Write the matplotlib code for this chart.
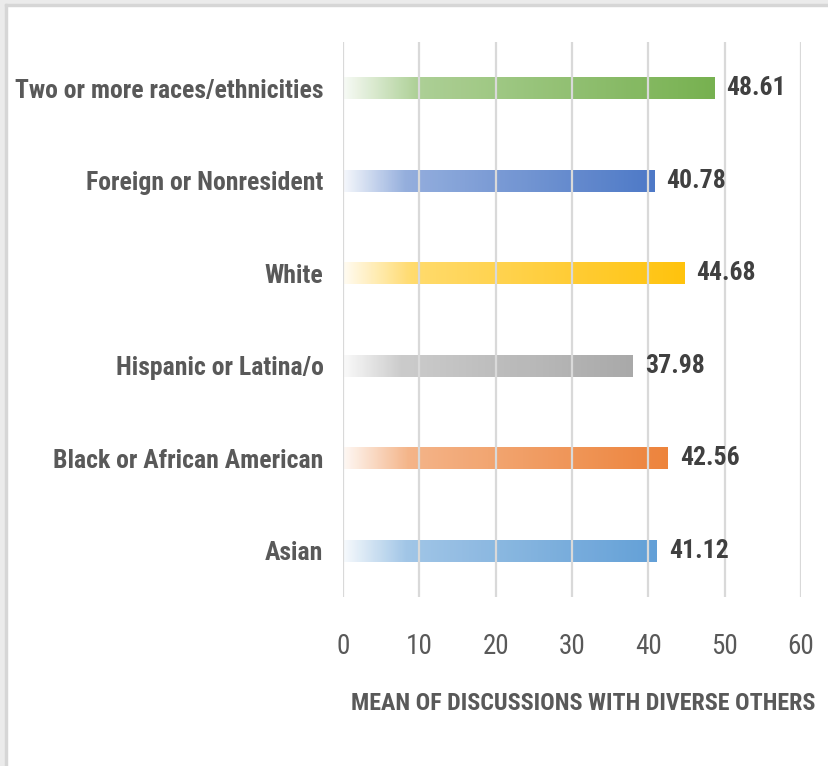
import matplotlib
matplotlib.use("Agg")
import matplotlib.pyplot as plt
import numpy as np
from matplotlib.colors import to_rgb
from matplotlib.patches import Rectangle
from matplotlib import font_manager

# groups, bottom to top as drawn
groups = ["Asian", "Black or African American", "Hispanic or Latina/o",
          "White", "Foreign or Nonresident", "Two or more races/ethnicities"]
means = [41.12, 42.56, 37.98, 44.68, 40.78, 48.61]
colors = ["#5B9BD5", "#ED7D31", "#A5A5A5", "#FFC000", "#4472C4", "#70AD47"]
xticks = [0, 10, 20, 30, 40, 50, 60]

# pick a narrow face if one is installed
installed = {f.name for f in font_manager.fontManager.ttflist}
narrow_names = [n for n in ["Liberation Sans Narrow", "DejaVu Sans Condensed",
                            "Roboto Condensed", "Open Sans Condensed",
                            "Noto Sans Condensed", "Arial Narrow"] if n in installed]
plt.rcParams["font.family"] = narrow_names + ["DejaVu Sans"]
plt.rcParams["font.stretch"] = "condensed"

fig = plt.figure(figsize=(8.29, 7.66), dpi=100)
fig.patch.set_facecolor("white")
# light frame on the top and left edges
fig.patches.append(Rectangle((0, 0), 5 / 829, 1, transform=fig.transFigure, color="#ebebeb", zorder=0))
fig.patches.append(Rectangle((0, 1 - 4 / 766), 1, 4 / 766, transform=fig.transFigure, color="#ebebeb", zorder=0))
fig.patches.append(Rectangle((5 / 829, 0), 2 / 829, 1 - 4 / 766, transform=fig.transFigure, color="#d6d6d6", zorder=0))
fig.patches.append(Rectangle((5 / 829, 1 - 6 / 766), 1, 2 / 766, transform=fig.transFigure, color="#d6d6d6", zorder=0))

ax = fig.add_axes([343 / 829, 1 - 597 / 766, (801 - 343) / 829, (597 - 42) / 766])

ypos = np.arange(len(groups))
bars = ax.barh(ypos, means, height=0.24, color="none", edgecolor="none", zorder=2)

# white-to-colour gradient inside each bar
stops_t = [0.0, 0.2, 1.0]
stops_a = [0.05, 0.6, 1.0]
n = 256
t = np.linspace(0, 1, n)
mix = np.interp(t, stops_t, stops_a)
for bar, val, c in zip(bars, means, colors):
    rgb = np.array(to_rgb(c))
    row = (1 - mix)[:, None] * np.ones(3) + mix[:, None] * rgb
    img = row[None, :, :]
    y0 = bar.get_y()
    h = bar.get_height()
    im = ax.imshow(img, extent=(0, val, y0, y0 + h), aspect="auto",
                   interpolation="bilinear", zorder=2, alpha=0.95)
    im.set_clip_path(bar)
    ax.text(val + 1.6, bar.get_y() + h / 2, f"{val:.2f}", va="center", ha="left",
            fontsize=18.5, fontweight="bold", color="#404040")

ax.set_xlim(0, 60)
ax.set_ylim(-0.5, len(groups) - 0.5)
ax.set_xticks(xticks)
ax.set_xticklabels([str(v) for v in xticks], fontsize=19.5, color="#595959")
ax.set_yticks(ypos)
ax.set_yticklabels(groups, fontsize=18.5, fontweight="bold", color="#595959")
ax.tick_params(axis="x", length=0, pad=26)
ax.tick_params(axis="y", length=0, pad=14)
ax.grid(axis="x", color="#d9d9d9", linewidth=1.6, zorder=3)
ax.set_axisbelow(False)
for s in ax.spines.values():
    s.set_visible(False)

ax.set_xlabel("MEAN OF DISCUSSIONS WITH DIVERSE OTHERS", fontsize=17.3,
              fontweight="bold", color="#595959")
ax.xaxis.set_label_coords(0.524, -0.171)

fig.savefig("out.png", dpi=100)
